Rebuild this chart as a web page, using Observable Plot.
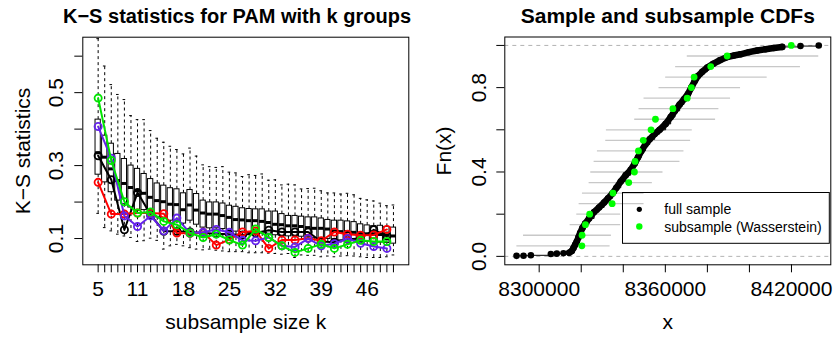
<!DOCTYPE html>
<html>
<head>
<meta charset="utf-8">
<script src="https://cdn.jsdelivr.net/npm/d3@7"></script>
<script src="https://cdn.jsdelivr.net/npm/@observablehq/plot@0.6"></script>
<style>
html, body { margin: 0; padding: 0; background: #fff; }
#wrap { position: relative; width: 834px; height: 338px; font-family: "Liberation Sans", Arial, Helvetica, sans-serif; color: #000; }
.panel { position: absolute; top: 0; width: 417px; height: 338px; overflow: hidden; }
#left { left: 0; }
#right { left: 417px; }
</style>
</head>
<body>
<div id="wrap"><div id="left" class="panel"></div><div id="right" class="panel"></div></div>
<script>
// ---------- Left panel data: K-S statistics boxplots ----------
const kValues = [5,6,7,8,9,10,11,12,13,14,15,16,17,18,19,20,21,22,23,24,25,26,27,28,29,30,31,32,33,34,35,36,37,38,39,40,41,42,43,44,45,46,47,48,49,50];
const whiskerHigh = [.648,.573,.522,.495,.481,.437,.426,.426,.396,.375,.364,.353,.344,.332,.348,.326,.302,.297,.295,.297,.282,.280,.270,.275,.273,.277,.260,.261,.247,.249,.247,.236,.237,.238,.231,.225,.225,.222,.224,.220,.210,.206,.203,.197,.190,.192];
const boxQ3 = [.426,.382,.360,.332,.318,.300,.291,.277,.263,.251,.245,.238,.235,.224,.233,.222,.204,.199,.199,.196,.190,.187,.183,.181,.180,.180,.174,.174,.167,.162,.162,.160,.158,.158,.155,.151,.149,.149,.147,.145,.139,.136,.134,.135,.132,.130];
const boxMedian = [.335,.323,.291,.259,.251,.240,.231,.224,.213,.204,.201,.194,.193,.179,.192,.178,.170,.167,.167,.163,.158,.152,.151,.149,.149,.147,.144,.139,.138,.135,.135,.133,.130,.128,.128,.126,.121,.119,.119,.117,.115,.113,.112,.111,.109,.107];
const boxQ1 = [.275,.254,.227,.204,.194,.185,.176,.178,.167,.158,.155,.149,.149,.141,.149,.138,.130,.128,.128,.126,.121,.119,.117,.115,.114,.114,.110,.109,.107,.106,.106,.105,.103,.101,.101,.099,.097,.095,.095,.094,.092,.091,.089,.089,.088,.086];
const whiskerLow = [.169,.130,.121,.112,.107,.103,.092,.094,.101,.095,.071,.080,.084,.080,.075,.071,.069,.071,.068,.066,.064,.064,.064,.061,.061,.061,.060,.059,.057,.059,.048,.055,.054,.054,.050,.052,.050,.052,.053,.052,.050,.048,.048,.048,.050,.055];

const lineK = [5,7,9,11,13,15,17,19,21,23,25,27,29,31,33,35,37,39,41,43,45,47,49];
const ksBlack = [.327,.261,.124,.226,.165,.120,.120,.118,.115,.113,.112,.110,.115,.123,.118,.118,.118,.092,.090,.098,.100,.124,.107];
const ksRed   = [.254,.167,.167,.170,.170,.168,.115,.114,.117,.082,.097,.118,.121,.073,.096,.096,.101,.094,.118,.112,.109,.110,.125];
const ksBlue  = [.407,.320,.162,.133,.162,.121,.156,.115,.117,.125,.117,.095,.094,.103,.080,.077,.100,.080,.086,.100,.087,.078,.073];
const ksGreen = [.485,.314,.201,.170,.173,.147,.138,.115,.103,.112,.096,.082,.126,.103,.080,.062,.073,.084,.073,.084,.095,.092,.092];

const xTickLabelsLeft = [5,11,18,25,32,39,46];
const yTicksLeft = [0.1,0.2,0.3,0.4,0.5,0.6];
const yTickLabelsLeft = [0.1,0.3,0.5];

// ---------- Right panel data: CDFs ----------
const fullX = [8289236,8292560,8296042,8305541,8308390,8311556,8314247,8315513,8316305,8317096,8317888,8318679,8319471,8320579,8321845,8323745,8326120,8328494,8330869,8332768,8334826,8336726,8338784,8341158,8343533,8345432,8347015,8348598,8350498,8352556,8354930,8357305,8360154,8362529,8364586,8366803,8368861,8370760,8372343,8373926,8375509,8377567,8379942,8382791,8385957,8389440,8392606,8395772,8399729,8403687,8407644,8411602,8415559,8424266,8432972];
const fullF = [0.0025,0.003,0.005,0.011,0.013,0.015,0.017,0.025,0.04,0.055,0.07,0.09,0.11,0.135,0.155,0.18,0.21,0.232,0.255,0.275,0.298,0.325,0.355,0.385,0.41,0.44,0.47,0.5,0.53,0.555,0.58,0.6,0.628,0.66,0.69,0.72,0.745,0.77,0.8,0.83,0.855,0.875,0.895,0.913,0.93,0.945,0.952,0.958,0.968,0.976,0.982,0.988,0.993,0.997,1.0];

const subX = [8320300,8320400,8322000,8324000,8334700,8335100,8342600,8345300,8345600,8347200,8349500,8353200,8355300,8363600,8370400,8372400,8373700,8381600,8389400,8419900];
const subF = [0.05,0.10,0.15,0.20,0.25,0.30,0.35,0.40,0.45,0.50,0.55,0.60,0.65,0.70,0.75,0.80,0.85,0.90,0.95,1.00];

const grayLevel = [0.05,0.10,0.15,0.20,0.25,0.30,0.35,0.40,0.45,0.50,0.55,0.60,0.65,0.70,0.75,0.80,0.85,0.90,0.95];
const grayFrom = [8289394,8292560,8314722,8317888,8318996,8320579,8323745,8324537,8326120,8327703,8331660,8331977,8345432,8347490,8349865,8356988,8360154,8364903,8370444];
const grayTo   = [8333718,8334351,8338784,8338784,8349865,8349865,8353822,8358888,8366961,8368861,8372027,8372818,8383899,8385482,8391023,8395772,8408436,8424266,8432972];

const xTicksRight = [8300000,8320000,8340000,8360000,8380000,8400000,8420000];
const xTickLabelsRight = [8300000,8360000,8420000];
const yTicksRight = [0,0.2,0.4,0.6,0.8,1.0];
const yTickLabelsRight = [0,0.4,0.8];

const FONT = "'Liberation Sans', Arial, Helvetica, sans-serif";
const FS = 21;
const TXT = {textAnchor: "middle", lineAnchor: "middle", fontSize: FS, fill: "black"};

// ---------- Left panel ----------
const boxes = kValues.map((k, i) => ({k, hi: whiskerHigh[i], q3: boxQ3[i], med: boxMedian[i], q1: boxQ1[i], lo: whiskerLow[i]}));
const ser = (vals) => lineK.map((k, i) => ({k, v: vals[i]}));
const seriesList = [
  {data: ser(ksBlack), color: "#000000"},
  {data: ser(ksRed), color: "#ff0000"},
  {data: ser(ksBlue), color: "#6422ea"},
  {data: ser(ksGreen), color: "#00e600"}
];

const leftPlot = Plot.plot({
  width: 417, height: 338,
  marginLeft: 82.3, marginRight: 8.7, marginTop: 36.7, marginBottom: 73.7,
  style: {fontFamily: FONT, background: "white", color: "black"},
  x: {domain: [2.66, 52.34]},
  y: {domain: [0.028, 0.652]},
  marks: [
    Plot.ruleX(boxes, {x: "k", y1: "q3", y2: "hi", stroke: "black", strokeWidth: 1, strokeDasharray: "3,3"}),
    Plot.ruleX(boxes, {x: "k", y1: "q1", y2: "lo", stroke: "black", strokeWidth: 1, strokeDasharray: "3,3"}),
    Plot.ruleY(boxes, {y: "hi", x1: d => d.k - 0.2, x2: d => d.k + 0.2, stroke: "black", strokeWidth: 1}),
    Plot.ruleY(boxes, {y: "lo", x1: d => d.k - 0.2, x2: d => d.k + 0.2, stroke: "black", strokeWidth: 1}),
    Plot.rect(boxes, {x1: d => d.k - 0.4, x2: d => d.k + 0.4, y1: "q1", y2: "q3", fill: "white", stroke: "black", strokeWidth: 1}),
    Plot.ruleY(boxes, {y: "med", x1: d => d.k - 0.4, x2: d => d.k + 0.4, stroke: "black", strokeWidth: 3}),
    ...seriesList.flatMap(s => [
      Plot.line(s.data, {x: "k", y: "v", stroke: s.color, strokeWidth: 2}),
      Plot.dot(s.data, {x: "k", y: "v", r: 3.6, stroke: s.color, strokeWidth: 1.8, fill: "none"})
    ]),
    Plot.frame({stroke: "black", strokeWidth: 1}),
    Plot.axisX({ticks: kValues, tickSize: 8, tickFormat: () => "", label: null}),
    Plot.axisY({ticks: yTicksLeft, tickSize: 8, tickFormat: () => "", label: null}),
    Plot.text(xTickLabelsLeft, {...TXT, x: d => d, text: d => String(d), frameAnchor: "bottom", dy: 24}),
    Plot.text(yTickLabelsLeft, {...TXT, y: d => d, text: d => d.toFixed(1), frameAnchor: "left", dx: -26.5, rotate: -90}),
    Plot.text([0], {...TXT, text: () => "subsample size k", frameAnchor: "bottom", dy: 57.3}),
    Plot.text([0], {...TXT, text: () => "K\u2212S statistics", frameAnchor: "left", dx: -60, rotate: -90}),
    Plot.text([0], {...TXT, text: () => "K\u2212S statistics for PAM with k groups", frameAnchor: "top", dy: -20.7, dx: -8.8, fontSize: 20, fontWeight: "bold"})
  ]
});
document.getElementById("left").appendChild(leftPlot);

// ---------- Right panel ----------
const full = fullX.map((x, i) => ({x, f: fullF[i]}));
const fullDense = full.slice(6, 53);
const sub = subX.map((x, i) => ({x, f: subF[i]}));
const grays = grayLevel.map((f, i) => ({f, x1: grayFrom[i], x2: grayTo[i]}));

const rightPlot = Plot.plot({
  width: 417, height: 338,
  marginLeft: 87.3, marginRight: 3.7, marginTop: 36.5, marginBottom: 73.7,
  style: {fontFamily: FONT, background: "white", color: "black"},
  x: {domain: [8283650, 8438700]},
  y: {domain: [-0.04, 1.04]},
  marks: [
    Plot.ruleY([0, 1], {stroke: "#b3b3b3", strokeWidth: 1, strokeDasharray: "4,4"}),
    Plot.ruleY(grays, {y: "f", x1: "x1", x2: "x2", stroke: "#c8c8c8", strokeWidth: 1.3}),
    Plot.line(full, {x: "x", y: "f", curve: "step-after", stroke: "black", strokeWidth: 1}),
    Plot.line(fullDense, {x: "x", y: "f", stroke: "black", strokeWidth: 6.5, strokeLinecap: "round", strokeLinejoin: "round"}),
    Plot.dot(full, {x: "x", y: "f", r: 3.3, fill: "black"}),
    Plot.dot(sub, {x: "x", y: "f", r: 3.4, fill: "#00ff00"}),
    Plot.frame({stroke: "black", strokeWidth: 1}),
    Plot.axisX({ticks: xTicksRight, tickSize: 8, tickFormat: () => "", label: null}),
    Plot.axisY({ticks: yTicksRight, tickSize: 8, tickFormat: () => "", label: null}),
    Plot.text(xTickLabelsRight, {...TXT, x: d => d, text: d => String(d), frameAnchor: "bottom", dy: 24.3}),
    Plot.text(yTickLabelsRight, {...TXT, y: d => d, text: d => d.toFixed(1), frameAnchor: "left", dx: -25.3, rotate: -90}),
    Plot.text([0], {...TXT, text: () => "x", frameAnchor: "bottom", dy: 57.3}),
    Plot.text([0], {...TXT, text: () => "Fn(x)", frameAnchor: "left", dx: -60.4, rotate: -90}),
    Plot.text([0], {...TXT, text: () => "Sample and subsample CDFs", frameAnchor: "top", dy: -20.5, fontWeight: "bold"})
  ]
});
document.getElementById("right").appendChild(rightPlot);

// legend (drawn inside the right SVG)
const legendItems = [
  {label: "full sample", color: "#000000", r: 2.6},
  {label: "subsample (Wasserstein)", color: "#00ff00", r: 3.2}
];
const lg = d3.select(rightPlot).append("g").attr("font-family", FONT).attr("font-size", 14).attr("text-anchor", "start");
lg.append("rect").attr("x", 205.5).attr("y", 192.5).attr("width", 206.8).attr("height", 50.8)
  .attr("fill", "none").attr("stroke", "black").attr("stroke-width", 1);
legendItems.forEach((it, i) => {
  const cy = 209.3 + i * 17.2;
  lg.append("circle").attr("cx", 222.3).attr("cy", cy).attr("r", it.r).attr("fill", it.color);
  lg.append("text").attr("x", 247.3).attr("y", cy + 5).attr("fill", "black").attr("text-anchor", "start").text(it.label);
});
</script>
</body>
</html>
